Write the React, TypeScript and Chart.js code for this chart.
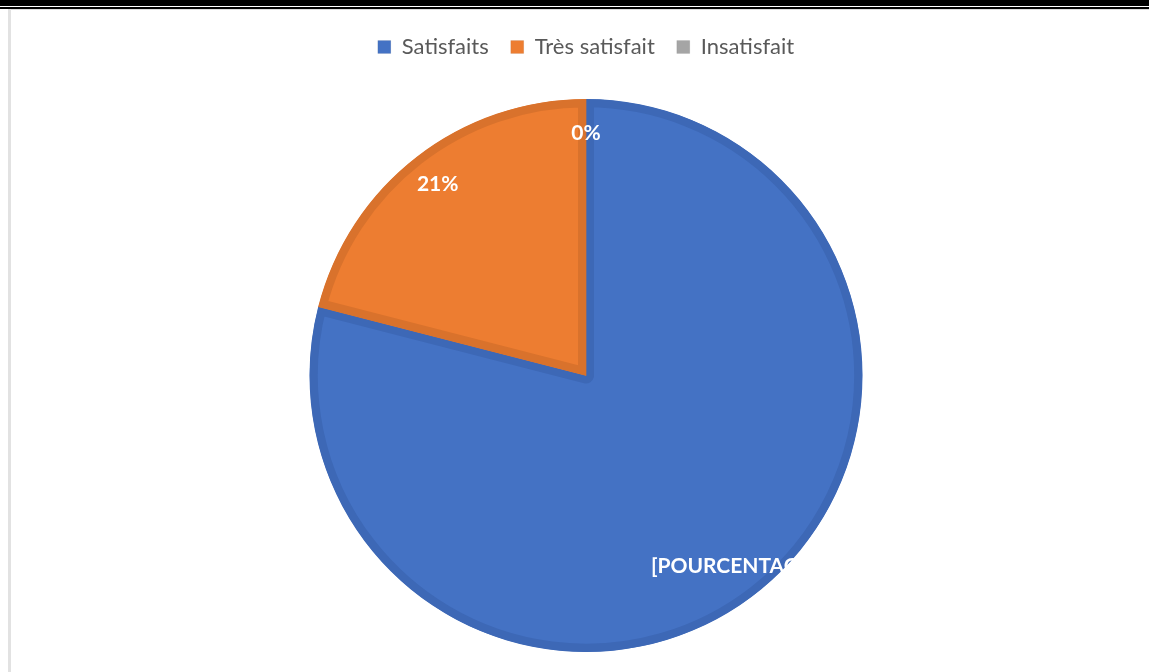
import React, { useEffect, useRef } from "react";
import { Chart, registerables } from "chart.js";

Chart.register(...registerables);

const categories = ["Satisfaits", "Très satisfait", "Insatisfait"];
const values = [79, 21, 0];
const dataLabels = ["[POURCENTAGE]", "21%", "0%"];
const fillColors = ["#4472C4", "#ED7D31", "#A5A5A5"];
const borderColors = ["#3D68B6", "#D9722C", "#979797"];

const labelPlugin = {
  id: "sliceLabels",
  beforeLayout(chart: any) {
    const legend = chart.legend;
    if (legend && !legend._patchedFit) {
      const orig = legend.fit.bind(legend);
      legend.fit = function () {
        orig();
        this.height = 85;
      };
      legend._patchedFit = true;
    }
  },
  afterDatasetsDraw(chart: any) {
    const meta = chart.getDatasetMeta(0);
    const ctx = chart.ctx;
    ctx.save();
    ctx.fillStyle = "#FFFFFF";
    ctx.font = "bold 21px Lato, 'Open Sans', sans-serif";
    ctx.textAlign = "center";
    ctx.textBaseline = "middle";
    meta.data.forEach((arc: any, i: number) => {
      const p = arc.getProps(["x", "y", "startAngle", "endAngle", "outerRadius"], true);
      const mid = (p.startAngle + p.endAngle) / 2;
      const r = p.outerRadius * 0.875;
      ctx.fillText(dataLabels[i], p.x + Math.cos(mid) * r, p.y + Math.sin(mid) * r);
    });
    ctx.restore();
  },
};

export default function App() {
  const ref = useRef<HTMLCanvasElement | null>(null);
  useEffect(() => {
    if (!ref.current) return;
    const chart = new Chart(ref.current, {
      type: "pie",
      data: {
        labels: categories,
        datasets: [
          {
            data: values,
            backgroundColor: fillColors,
            borderColor: borderColors,
            borderWidth: 8,
            borderAlign: "inner",
            hoverBorderWidth: 8,
          } as any,
        ],
      },
      options: {
        animation: false,
        responsive: true,
        maintainAspectRatio: false,
        layout: { padding: { left: 12, right: 0, top: 4, bottom: 20 } },
        plugins: {
          tooltip: { enabled: false },
          legend: {
            position: "top",
            labels: {
              boxWidth: 13,
              boxHeight: 13,
              padding: 22,
              color: "#595959",
              font: { size: 22, family: "Lato, 'Open Sans', sans-serif" },
              generateLabels(c: any) {
                return (c.data.labels as string[]).map((text, i) => ({
                  text,
                  fillStyle: fillColors[i],
                  strokeStyle: "rgba(0,0,0,0.12)",
                  lineWidth: 0.5,
                  fontColor: "#595959",
                  hidden: false,
                  index: i,
                }));
              },
            },
          },
        },
      },
      plugins: [labelPlugin],
    });
    return () => chart.destroy();
  }, []);

  return (
    <div
      style={{
        position: "fixed",
        left: 0,
        top: 0,
        width: 1149,
        height: 672,
        background: "#FFFFFF",
        overflow: "hidden",
      }}
    >
      <div style={{ position: "absolute", left: 0, top: 0, width: 1149, height: 6, background: "#000" }} />
      <div style={{ position: "absolute", left: 0, top: 7, width: 1149, height: 2, background: "#000" }} />
      <div style={{ position: "absolute", left: 8, top: 9, width: 1141, height: 1, background: "#DADADA" }} />
      <div style={{ position: "absolute", left: 8, top: 9, width: 3, height: 663, background: "#E2E2E2" }} />
      <div style={{ position: "absolute", left: 11, top: 10, width: 1138, height: 662 }}>
        <canvas ref={ref} />
      </div>
    </div>
  );
}
